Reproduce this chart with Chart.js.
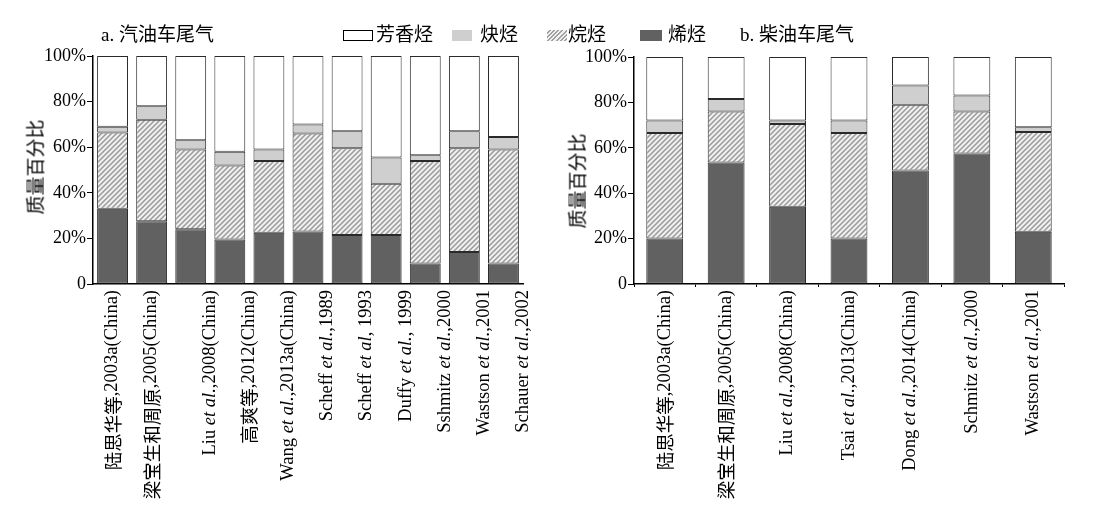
<!DOCTYPE html>
<html><head><meta charset="utf-8">
<script src="https://cdn.jsdelivr.net/npm/chart.js@4.4.1/dist/chart.umd.min.js"></script>
<style>
body{margin:0;background:#fff;width:1100px;height:518px;position:relative;overflow:hidden;font-family:"Liberation Serif","Noto Sans CJK SC",serif;color:#000}
canvas{position:absolute;top:0}
#cA{left:0}
#cB{left:550px}
.t{position:absolute;font-size:19px;line-height:20px;white-space:nowrap}
.sw{position:absolute;height:11px;top:30px;box-sizing:border-box}
.yt{position:absolute;font-size:19px;line-height:19px;white-space:nowrap;transform:translate(-50%,-50%) rotate(-90deg);font-family:"Noto Sans CJK SC"}
</style></head><body>
<canvas id="cA" width="550" height="518"></canvas>
<canvas id="cB" width="550" height="518"></canvas>
<div class="t" style="left:101px;top:25px">a. 汽油车尾气</div>
<div class="t" style="left:740px;top:25px">b. 柴油车尾气</div>
<div class="sw" style="left:343px;width:30px;border:1px solid #000;background:#fff"></div>
<div class="t" style="left:376px;top:25px" id="lg0"></div>
<div class="sw" style="left:452px;width:20px;background:#cfcfcf"></div>
<div class="t" style="left:480px;top:25px" id="lg1"></div>
<div class="sw" style="left:547px;width:20px;background:repeating-linear-gradient(135deg,#f0f0f0 0 1.5px,#a0a0a0 1.5px 3px)"></div>
<div class="t" style="left:568px;top:25px" id="lg2"></div>
<div class="sw" style="left:640px;width:22px;background:#616161"></div>
<div class="t" style="left:668px;top:25px" id="lg3"></div>
<div class="yt" style="left:34px;top:167px">质量百分比</div>
<div class="yt" style="left:576px;top:181px">质量百分比</div>
<script>
// ---- data ----
const gasCategories = ['陆思华等,2003a(China)','梁宝生和周原,2005(China)','Liu *et al.*,2008(China)','高爽等,2012(China)','Wang *et al.*,2013a(China)','Scheff *et al.*,1989','Scheff *et al*, 1993','Duffy *et al.*, 1999','Sshmitz *et al.*,2000','Wastson *et al.*,2001','Schauer *et al.*,2002'];
const gasOlefin   = [33,27.5,24,19.5,22.5,23,21.5,21.5,9,14,9];
const gasAlkane   = [33.5,44.5,35,32.5,31.5,43,38,22.5,45,45.5,50];
const gasAlkyne   = [2.5,6,4,6,5,4,7.5,11.5,2.5,7.5,5.5];
const gasAromatic = [31,22,37,42,41,30,33,44.5,43.5,33,35.5];

const dieselCategories = ['陆思华等,2003a(China)','梁宝生和周原,2005(China)','Liu *et al.*,2008(China)','Tsai *et al.*,2013(China)','Dong *et al.*,2014(China)','Schmitz *et al.*,2000','Wastson *et al.*,2001'];
const dieselOlefin   = [20,53.5,34,20,50,57.5,23];
const dieselAlkane   = [46.5,22.5,36.5,46.5,29,18.5,44];
const dieselAlkyne   = [5.5,5.5,1.5,5.5,8.5,7,2];
const dieselAromatic = [28,18.5,28,28,12.5,17,31];

const seriesNames = ['烯烃','烷烃','炔烃','芳香烃'];
const legendOrder = ['芳香烃','炔烃','烷烃','烯烃'];
const yTickLabels = ['0','20%','40%','60%','80%','100%'];

legendOrder.forEach((n,i)=>{document.getElementById('lg'+i).textContent=n;});

function hatch(){
  const c=document.createElement('canvas'); c.width=c.height=5;
  const g=c.getContext('2d');
  g.fillStyle='#f0f0f0'; g.fillRect(0,0,5,5);
  g.strokeStyle='#9a9a9a'; g.lineWidth=1.5;
  g.beginPath();
  g.moveTo(-1,6); g.lineTo(6,-1);
  g.moveTo(-1,1); g.lineTo(1,-1);
  g.moveTo(4,6); g.lineTo(6,4);
  g.stroke();
  return g.createPattern(c,'repeat');
}
const fills = ['#616161', hatch(), '#cfcfcf', '#ffffff'];
const LATIN_FONT = '18.5px "Liberation Serif"';
const CJK_FONT = '18.5px "Noto Sans CJK SC"';

function runs(label){
  // split into [text, font] runs: *...* = italic, CJK chars use CJK font
  const out=[];
  label.split('*').forEach((seg,k)=>{
    const re=/([\u3400-\u9fff]+)|([^\u3400-\u9fff]+)/g; let m;
    while((m=re.exec(seg))){
      if(m[1]) out.push([m[1], CJK_FONT]);
      else out.push([m[2], (k%2?'italic ':'')+LATIN_FONT]);
    }
  });
  return out;
}

function makeChart(id, cats, series, o){
  const labelPlugin = {id:'xl'+id, afterDraw(chart){
    const xs=chart.scales.x, ctx=chart.ctx;
    const half=(xs.getPixelForValue(1)-xs.getPixelForValue(0))/2;
    const y0=chart.chartArea.bottom+6;
    ctx.save(); ctx.fillStyle='#000'; ctx.textBaseline='middle'; ctx.textAlign='left';
    cats.forEach((lab,i)=>{
      const x=xs.getPixelForValue(i)+(o.shiftFrom!=null && i>=o.shiftFrom?half:0);
      const rs=runs(lab);
      let tot=0;
      const ws=rs.map(r=>{ctx.font=r[1]; const w=ctx.measureText(r[0]).width; tot+=w; return w;});
      ctx.save(); ctx.translate(x,y0); ctx.rotate(-Math.PI/2);
      let p=-tot;
      rs.forEach((r,k)=>{ctx.font=r[1]; ctx.fillText(r[0],p,0); p+=ws[k];});
      ctx.restore();
    });
    ctx.restore();
  }};
  return new Chart(document.getElementById(id), {
    type:'bar',
    data:{labels:cats.map(c=>c.replace(/\*/g,'')), datasets: series.map((d,i)=>({
      label:seriesNames[i], data:d, backgroundColor:fills[i], borderColor:'#2a2a2a', borderWidth:1, borderSkipped:false,
      categoryPercentage:1, barPercentage:o.barPct
    }))},
    options:{
      responsive:false, animation:false, events:[],
      layout:{padding:{top:o.top,right:o.padRight,bottom:0,left:0}},
      plugins:{legend:{display:false},tooltip:{enabled:false}},
      scales:{
        x:{stacked:true, afterFit(s){s.height=518-o.bottom;},
           ticks:{display:false},
           grid:{display:o.xTicks, drawOnChartArea:false, drawTicks:true, tickLength:3, color:'#000', offset:true},
           border:{display:true,color:'#000',width:1.5}},
        y:{stacked:true, min:0, max:100, afterFit(s){s.width=o.yWidth;},
           ticks:{stepSize:20,color:'#000',padding:1,font:{family:'"Liberation Serif"',size:18},
                  callback:(v)=>yTickLabels[Math.round(v/20)]},
           grid:{drawOnChartArea:false,drawTicks:true,tickLength:6,color:'#000',lineWidth:1},
           border:{display:true,color:'#000',width:1.5}}
      }
    },
    plugins:[labelPlugin]
  });
}

makeChart('cA', gasCategories, [gasOlefin,gasAlkane,gasAlkyne,gasAromatic],
  {yWidth:93, padRight:27, top:56, bottom:284, barPct:0.79, shiftFrom:2, xTicks:false});
makeChart('cB', dieselCategories, [dieselOlefin,dieselAlkane,dieselAlkyne,dieselAromatic],
  {yWidth:84, padRight:36, top:57, bottom:284, barPct:0.6, shiftFrom:null, xTicks:true});
</script>
</body></html>
